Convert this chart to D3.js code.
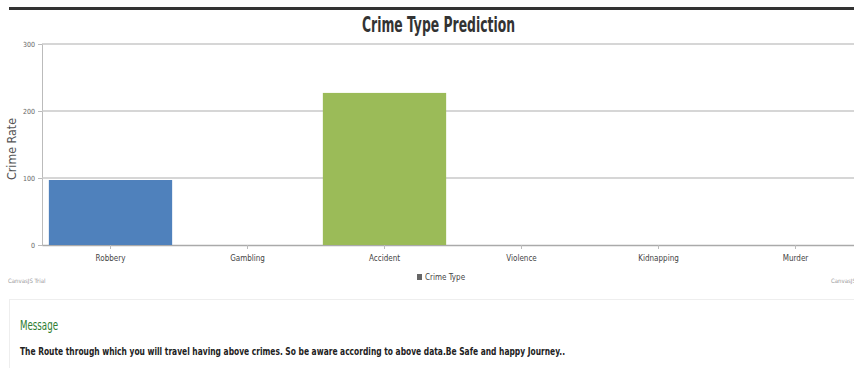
<!DOCTYPE html>
<html>
<head>
<meta charset="utf-8">
<script src="https://cdn.jsdelivr.net/npm/d3@7"></script>
<style>
  html, body { margin: 0; padding: 0; background: #fff; overflow: hidden; }
  svg { display: block; }
</style>
</head>
<body>
<svg id="chart" width="854" height="368"></svg>
<script>
// crime types and predicted rates
const categories = ["Robbery", "Gambling", "Accident", "Violence", "Kidnapping", "Murder"];
const rates = [97, 0, 227, 0, 0, 0];
const colors = ["#4F81BC", "#C0504E", "#9BBB58", "#23BFAA", "#8064A1", "#4AACC5"];
const yTicks = [0, 100, 200, 300];

const chart = {

  init: function() {
    const me = chart;
    me.svg = d3.select("#chart");
    me.font = "'DejaVu Sans Condensed', sans-serif";

    me.x = d3.scaleBand()
      .domain(categories)
      .range([42, 864])
      .paddingInner(0.1)
      .paddingOuter(0.05);

    me.y = d3.scaleLinear()
      .domain([0, 300])
      .range([245, 44]);

    me.frame();
    me.axes();
    me.bars();
    me.message();
  },

  frame: function() {
    const me = chart;
    // dark rule above title
    me.svg.append("rect")
      .attr("x", 9).attr("y", 7)
      .attr("width", 845).attr("height", 3)
      .attr("fill", "#333");

    me.svg.append("text")
      .attr("x", 362).attr("y", 32)
      .attr("textLength", 153)
      .attr("lengthAdjust", "spacingAndGlyphs")
      .style("font-family", me.font)
      .style("font-weight", "bold")
      .style("font-size", "22px")
      .attr("fill", "#333")
      .text("Crime Type Prediction");
  },

  axes: function() {
    const me = chart;

    const yAxis = me.svg.append("g")
      .attr("transform", "translate(42,0)")
      .call(d3.axisLeft(me.y).tickValues(yTicks).tickSize(4).tickPadding(3));
    yAxis.select(".domain").attr("stroke", "#bbb");
    yAxis.selectAll(".tick line").attr("stroke", "#bbb");
    yAxis.selectAll("text")
      .attr("fill", "#666")
      .style("font-family", me.font)
      .style("font-size", "7px");

    // grid lines
    me.svg.append("g")
      .selectAll("line")
      .data(yTicks.slice(1))
      .join("line")
      .attr("x1", 42).attr("x2", 864)
      .attr("y1", d => me.y(d)).attr("y2", d => me.y(d))
      .attr("stroke", "#c8c8c8")
      .attr("stroke-width", 1.5);

    const xAxis = me.svg.append("g")
      .attr("transform", "translate(0,245)")
      .call(d3.axisBottom(me.x).tickSize(4).tickPadding(6).tickSizeOuter(0));
    xAxis.select(".domain").attr("stroke", "#aaa").attr("stroke-width", 1.5);
    xAxis.selectAll(".tick line").attr("stroke", "#bbb");
    xAxis.selectAll("text")
      .attr("fill", "#444")
      .style("font-family", me.font)
      .style("font-size", "8px");

    me.svg.append("text")
      .attr("transform", "translate(16,149) rotate(-90)")
      .attr("text-anchor", "middle")
      .attr("textLength", 62)
      .attr("lengthAdjust", "spacingAndGlyphs")
      .style("font-family", "'DejaVu Sans', sans-serif")
      .style("font-size", "12px")
      .attr("fill", "#555")
      .text("Crime Rate");

    // legend
    me.svg.append("rect")
      .attr("x", 417).attr("y", 274)
      .attr("width", 5).attr("height", 6)
      .attr("fill", "#666");
    me.svg.append("text")
      .attr("x", 425).attr("y", 280)
      .style("font-family", me.font)
      .style("font-size", "8px")
      .attr("fill", "#444")
      .text("Crime Type");

    me.svg.append("text")
      .attr("x", 8).attr("y", 283)
      .style("font-family", me.font)
      .style("font-size", "6px")
      .attr("fill", "#999")
      .text("CanvasJS Trial");
    me.svg.append("text")
      .attr("x", 831).attr("y", 283)
      .style("font-family", me.font)
      .style("font-size", "6px")
      .attr("fill", "#999")
      .text("CanvasJS Trial");
  },

  bars: function() {
    const me = chart;
    me.svg.append("g")
      .selectAll("rect")
      .data(categories)
      .join("rect")
      .attr("x", d => me.x(d))
      .attr("y", (d, i) => me.y(rates[i]))
      .attr("width", me.x.bandwidth())
      .attr("height", (d, i) => me.y(0) - me.y(rates[i]))
      .attr("fill", (d, i) => colors[i]);
  },

  message: function() {
    const me = chart;
    me.svg.append("rect")
      .attr("x", 9.5).attr("y", 299.5)
      .attr("width", 850).attr("height", 80)
      .attr("fill", "#fff")
      .attr("stroke", "#eee");

    me.svg.append("text")
      .attr("x", 20).attr("y", 330)
      .attr("textLength", 38)
      .attr("lengthAdjust", "spacingAndGlyphs")
      .style("font-family", me.font)
      .style("font-size", "14px")
      .attr("fill", "#2e7d32")
      .text("Message");

    me.svg.append("text")
      .attr("x", 20).attr("y", 355)
      .attr("textLength", 545)
      .attr("lengthAdjust", "spacingAndGlyphs")
      .style("font-family", me.font)
      .style("font-weight", "bold")
      .style("font-size", "10px")
      .attr("fill", "#222")
      .text("The Route through which you will travel having above crimes. So be aware according to above data.Be Safe and happy Journey..");
  }
};

chart.init();
</script>
</body>
</html>
